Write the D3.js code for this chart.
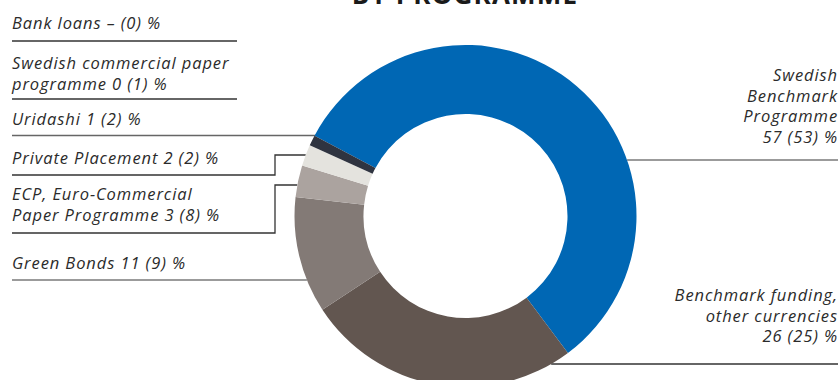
<!DOCTYPE html>
<html>
<head>
<meta charset="utf-8">
<script src="https://cdn.jsdelivr.net/npm/d3@7"></script>
<style>
  html, body { margin: 0; padding: 0; background: #ffffff; }
  svg { display: block; }
  .lbl { font-family: "Open Sans", sans-serif; font-style: italic; font-size: 16.5px; letter-spacing: 0.9px; fill: #2b2b2b; }
</style>
</head>
<body>
<svg id="chart" width="840" height="380"></svg>
<script>
// Funding by programme, share of total (%), current year and (previous year)
const categories = [
  "Swedish Benchmark Programme",
  "Benchmark funding, other currencies",
  "Green Bonds",
  "ECP, Euro-Commercial Paper Programme",
  "Private Placement",
  "Uridashi",
  "Swedish commercial paper programme",
  "Bank loans"
];
const shares     = [57, 26, 11, 3, 2, 1, 0, null];
const prevShares = [53, 25, 9, 8, 2, 2, 1, 0];
// How each category name is broken over lines in its label
const nameLines = [
  ["Swedish", "Benchmark", "Programme"],
  ["Benchmark funding,", "other currencies"],
  ["Green Bonds"],
  ["ECP, Euro-Commercial", "Paper Programme"],
  ["Private Placement"],
  ["Uridashi"],
  ["Swedish commercial paper", "programme"],
  ["Bank loans"]
];
const colors = ["#0067b4", "#625650", "#837a76", "#aba39f", "#e4e3de", "#2f3440", "#2f3440", "#2f3440"];

const W = 840, H = 380;
const cx = 465.5, cy = 216, R = 171, r = 102;
const svg = d3.select("#chart");

// title, mostly above the visible area
svg.append("text")
  .attr("x", 465).attr("y", 4)
  .attr("text-anchor", "middle")
  .style("font-family", "'Open Sans', sans-serif")
  .style("font-weight", 700)
  .style("font-size", "26px")
  .style("letter-spacing", "1.2px")
  .attr("fill", "#1a1a1a")
  .text("BY PROGRAMME");

const data = categories.map((c, i) => ({ name: c, share: shares[i], prev: prevShares[i], i }));

const pie = d3.pie()
  .sort(null)
  .value(d => d.share || 0)
  .startAngle(-62 * Math.PI / 180)
  .endAngle(-62 * Math.PI / 180 + 2 * Math.PI);

const arc = d3.arc().innerRadius(r).outerRadius(R);

// x where a horizontal line at height y meets the outer edge of the ring
const edgeX = (y, side) => cx + side * Math.sqrt(R * R - (y - cy) * (y - cy));

// label placement: side, first baseline, and leader line points
const lineH = 20.5;
const layout = [
  { side: "right", y0: 81,  line: () => [[edgeX(160, 1), 160], [838, 160]], stroke: "#7a7a7a" },
  { side: "right", y0: 301, line: () => [[edgeX(364, 1), 364], [838, 364]], stroke: "#333333" },
  { side: "left",  y0: 269, line: () => [[12, 280], [edgeX(280, -1), 280]], stroke: "#7a7a7a" },
  { side: "left",  y0: 200, line: () => [[12, 233], [275, 233], [275, 185], [edgeX(185, -1), 185]], stroke: "#333333" },
  { side: "left",  y0: 164, line: () => [[12, 175], [275, 175], [275, 155], [edgeX(155, -1), 155]], stroke: "#333333" },
  { side: "left",  y0: 125, line: () => [[12, 135.5], [edgeX(135.5, -1) + 4, 135.5]], stroke: "#666666" },
  { side: "left",  y0: 69,  line: () => [[12, 99], [237, 99]], stroke: "#333333" },
  { side: "left",  y0: 29,  line: () => [[12, 41], [237, 41]], stroke: "#333333" }
];

// leader lines (behind the ring)
const lineGen = d3.line();
svg.append("g").selectAll("path")
  .data(data)
  .join("path")
  .attr("d", d => lineGen(layout[d.i].line()))
  .attr("fill", "none")
  .attr("stroke", d => layout[d.i].stroke)
  .attr("stroke-width", 1.3);

// ring
svg.append("g")
  .attr("transform", `translate(${cx},${cy})`)
  .selectAll("path")
  .data(pie(data))
  .join("path")
  .attr("d", arc)
  .attr("fill", d => colors[d.data.i]);

// labels: name lines, with "value (previous) %" on the last line
// (left side) or on a line of its own (right side)
const valueText = d => `${d.share == null ? "–" : d.share} (${d.prev}) %`;
const lg = svg.append("g");
data.forEach(d => {
  const L = layout[d.i];
  const lines = nameLines[d.i].slice();
  if (L.side === "right") {
    lines.push(valueText(d));
  } else {
    lines[lines.length - 1] += " " + valueText(d);
  }
  const t = lg.append("text")
    .attr("class", "lbl")
    .attr("text-anchor", L.side === "right" ? "end" : "start");
  lines.forEach((s, k) => {
    t.append("tspan")
      .attr("x", L.side === "right" ? 838 : 12)
      .attr("y", L.y0 + k * lineH)
      .text(s);
  });
});
</script>
</body>
</html>
